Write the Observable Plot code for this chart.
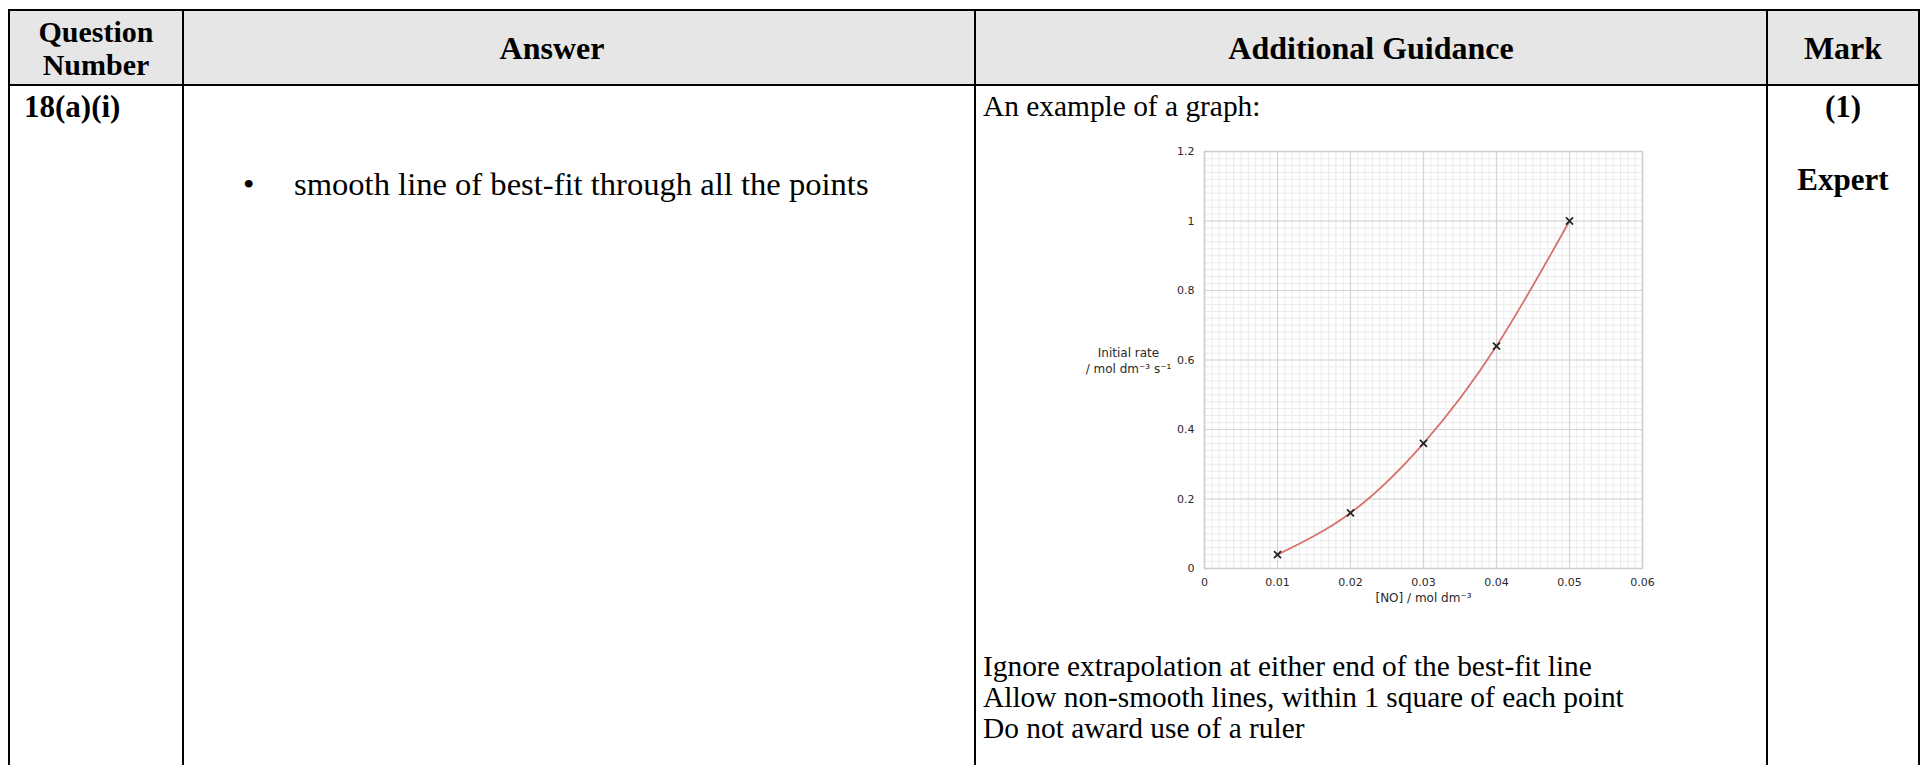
<!DOCTYPE html>
<html>
<head>
<meta charset="utf-8">
<script src="https://cdn.jsdelivr.net/npm/d3@7"></script>
<script src="https://cdn.jsdelivr.net/npm/@observablehq/plot@0.6"></script>
<style>
  html, body { margin: 0; padding: 0; background: #fff; }
  body { width: 1920px; height: 765px; position: relative; overflow: hidden; font-family: "Liberation Serif", "Times New Roman", serif; color: #000; }
  table { position: absolute; left: 8px; top: 9px; border-collapse: collapse; table-layout: fixed; width: 1910px; }
  td, th { border: 2px solid #000; padding: 0; }
  th { background: #e6e6e6; height: 73px; font-size: 32px; line-height: 32px; font-weight: bold; text-align: center; vertical-align: middle; }
  th.q { font-size: 30px; line-height: 33px; }
  td { height: 800px; }
  .t { position: absolute; white-space: nowrap; line-height: 31px; }
  .b { font-weight: bold; font-size: 31px; }
  .r { font-size: 29.4px; }
  .a { font-size: 32.6px; }
  #chart { position: absolute; left: 1040px; top: 130px; }
</style>
</head>
<body>
<table>
  <colgroup><col style="width:174px"><col style="width:792px"><col style="width:792px"><col style="width:152px"></colgroup>
  <tr><th class="q">Question<br>Number</th><th style="padding-right:54px;">Answer</th><th>Additional Guidance</th><th>Mark</th></tr>
  <tr><td></td><td></td><td></td><td></td></tr>
</table>
<div class="t b" style="left:24px; top:91px;">18(a)(i)</div>
<div class="t a" style="left:243px; top:169px;">•</div>
<div class="t a" style="left:294px; top:169px;">smooth line of best-fit through all the points</div>
<div class="t r" style="left:983px; top:91px;">An example of a graph:</div>
<div class="t b" style="left:1767px; width:152px; text-align:center; top:91px;">(1)</div>
<div class="t b" style="left:1767px; width:152px; text-align:center; top:164px;">Expert</div>
<div class="t r" style="left:983px; top:651px;">Ignore extrapolation at either end of the best-fit line<br>Allow non-smooth lines, within 1 square of each point<br>Do not award use of a ruler</div>
<div id="chart"></div>
<script>
// data
const concNO = [0.01, 0.02, 0.03, 0.04, 0.05];
const initialRate = [0.04, 0.16, 0.36, 0.64, 1.0];
const xTicks = [0, 0.01, 0.02, 0.03, 0.04, 0.05, 0.06];
const yTicks = [0, 0.2, 0.4, 0.6, 0.8, 1, 1.2];
const xLabel = "[NO] / mol dm\u207B\u00B3";
const yLabel = "Initial rate\n/ mol dm\u207B\u00B3 s\u207B\u00B9";

const points = concNO.map((x, i) => ({x, y: initialRate[i]}));
const xMinor = d3.ticks(0, 0.06, 60);
const yMinor = d3.ticks(0, 1.2, 60);
const fmt = d => String(+d.toFixed(3));

const chart = Plot.plot({
  width: 620,
  height: 490,
  marginLeft: 164,
  marginRight: 18,
  marginTop: 21,
  marginBottom: 52,
  style: { fontFamily: "DejaVu Sans, Verdana, sans-serif", fontSize: "11px", color: "#2a2a2a", background: "transparent" },
  x: { domain: [0, 0.06] },
  y: { domain: [0, 1.2] },
  marks: [
    Plot.ruleX(xMinor, { stroke: "#ebebeb", strokeWidth: 1 }),
    Plot.ruleY(yMinor, { stroke: "#ebebeb", strokeWidth: 1 }),
    Plot.ruleX(xTicks, { stroke: "#d4d4d4", strokeWidth: 1.2 }),
    Plot.ruleY(yTicks, { stroke: "#d4d4d4", strokeWidth: 1.2 }),
    Plot.frame({ stroke: "#cccccc", strokeWidth: 1.5 }),
    Plot.axisX({ ticks: xTicks, tickSize: 0, tickPadding: 10, tickFormat: fmt, fontSize: 11, label: null }),
    Plot.text([xLabel], { frameAnchor: "bottom", dy: 33, textAnchor: "middle", fontSize: 12, fill: "#2a2a2a" }),
    Plot.axisY({ ticks: yTicks, tickSize: 0, tickPadding: 10, tickFormat: fmt, fontSize: 11, label: null }),
    Plot.text([yLabel], { frameAnchor: "left", dx: -76, textAnchor: "middle", lineHeight: 1.35, fontSize: 12, fill: "#2a2a2a" }),
    Plot.line(points, { x: "x", y: "y", curve: "natural", stroke: "#d9726c", strokeWidth: 1.8 }),
    Plot.dot(points, { x: "x", y: "y", symbol: "times", r: 3.3, stroke: "#222", strokeWidth: 1.7 })
  ]
});
document.getElementById("chart").appendChild(chart);
</script>
</body>
</html>
